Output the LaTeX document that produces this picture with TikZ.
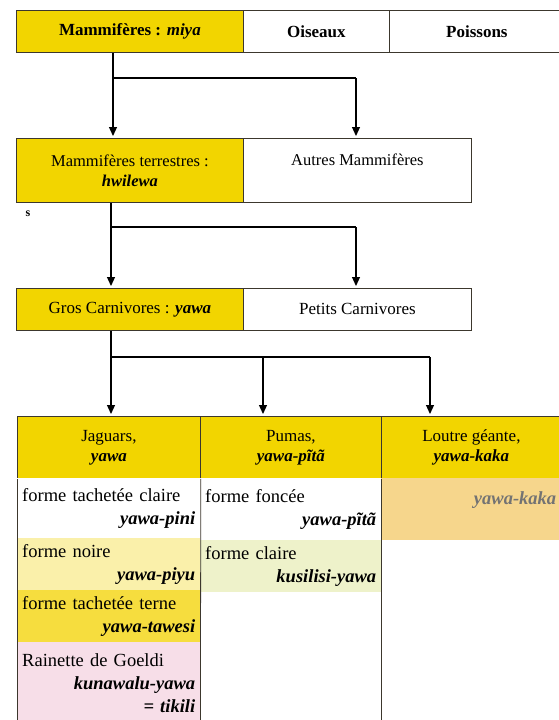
\documentclass[tikz,border=0pt]{standalone}
\usepackage{fontspec}
\setmainfont{Liberation Serif}
\usetikzlibrary{arrows.meta}

\definecolor{jaune}{RGB}{242,213,0}
\definecolor{jaunepale}{RGB}{250,240,170}
\definecolor{jaunemoyen}{RGB}{246,221,62}
\definecolor{rose}{RGB}{247,222,232}
\definecolor{vertpale}{RGB}{238,242,202}
\definecolor{orangepale}{RGB}{246,214,140}
\definecolor{trait}{RGB}{60,55,45}

\newcommand{\nom}[1]{\textbf{\textit{#1}}}
\newcommand{\forme}[2]{#1\hspace*{\fill}\\\hspace*{\fill}\nom{#2}}

\tikzset{
  boite/.style={draw=trait, line width=0.8pt, anchor=north west, inner sep=0pt,
    align=center, font=\fontsize{17}{20}\selectfont},
  case/.style={anchor=north west, inner xsep=5pt, inner ysep=2pt, align=left,
    font=\fontsize{18.5}{23}\selectfont},
  lien/.style={line width=1.2pt},
  fleche/.style={lien, -{Triangle[length=9pt,width=8pt]}, shorten >=2pt}
}

\begin{document}
\begin{tikzpicture}[x=1pt,y=-1pt]
  \useasboundingbox (0,0) rectangle (559,720);

  % premier niveau
  \node[boite, fill=jaune, minimum width=227pt, minimum height=42pt] (mam) at (16,10) {\textbf{Mammifères : \textit{miya}}};
  \node[boite, minimum width=146pt, minimum height=42pt] (ois) at (243,10) {\textbf{Oiseaux}};
  \node[boite, minimum width=175pt, minimum height=42pt] (poi) at (389,10) {\textbf{Poissons}};

  \coordinate (c1) at (113,78);
  \draw[lien] (c1 |- mam.south) -- (c1) -- (356,78) coordinate (c1b);

  % deuxieme niveau
  \node[boite, fill=jaune, minimum width=227pt, minimum height=64pt, font=\fontsize{16.5}{20}\selectfont] (ter) at (16,138) {Mammifères terrestres :\\ \nom{hwilewa}};
  \node[boite, minimum width=228pt, minimum height=64pt, font=\fontsize{16.5}{20}\selectfont] (aut) at (243,138) {Autres Mammifères\\[2pt]};
  \draw[fleche] (c1) -- (c1 |- ter.north);
  \draw[fleche] (c1b) -- (c1b |- aut.north);
  \node[font=\fontsize{12}{12}\selectfont\bfseries] (s) at (28,214) {s};

  \coordinate (c2) at (111,227);
  \draw[lien] (c2 |- ter.south) -- (c2) -- (356,227) coordinate (c2b);

  % troisieme niveau
  \node[boite, fill=jaune, minimum width=227pt, minimum height=42pt] (gro) at (16,288) {Gros Carnivores : \nom{yawa}};
  \node[boite, minimum width=228pt, minimum height=42pt] (pet) at (243,288) {Petits Carnivores};
  \draw[fleche] (c2) -- (c2 |- gro.north);
  \draw[fleche] (c2b) -- (c2b |- pet.north);

  \coordinate (c3) at (111,357);
  \coordinate (c3b) at (263,357);
  \coordinate (c3c) at (430,357);
  \draw[lien] (c3 |- gro.south) -- (c3) -- (c3c);

  % tableau
  \node[boite, fill=jaune, minimum width=183pt, minimum height=62pt] (jag) at (17,416) {Jaguars,\\ \nom{yawa}};
  \node[boite, fill=jaune, minimum width=181pt, minimum height=62pt] (pum) at (200,416) {Pumas,\\ \nom{yawa-pĩtã}};
  \node[boite, fill=jaune, minimum width=180pt, minimum height=62pt] (lou) at (381,416) {Loutre géante,\\ \nom{yawa-kaka}};
  \draw[fleche] (c3) -- (c3 |- jag.north);
  \draw[fleche] (c3b) -- (c3b |- pum.north);
  \draw[fleche] (c3c) -- (c3c |- lou.north);

  \node[case, fill=white, text width=173pt, minimum height=60pt] (j1) at (17,478) {\forme{forme tachetée claire}{yawa-pini}};
  \node[case, fill=jaunepale, text width=173pt, minimum height=52pt] (j2) at (17,538) {\forme{forme noire}{yawa-piyu}};
  \node[case, fill=jaunemoyen, text width=173pt, minimum height=52pt] (j3) at (17,590) {\forme{forme tachetée terne}{yawa-tawesi}};
  \node[case, fill=rose, text width=173pt, minimum height=82pt] (j4) at (17,642) {Rainette de Goeldi\hspace*{\fill}\\\hspace*{\fill}\nom{kunawalu-yawa}\\\hspace*{\fill}\nom{= tikili}};

  \node[case, fill=white, text width=171pt, minimum height=62pt] (p1) at (200,478) {\forme{forme foncée}{yawa-pĩtã}};
  \node[case, fill=vertpale, text width=171pt, minimum height=52pt] (p2) at (200,540) {\forme{forme claire}{kusilisi-yawa}};

  \node[case, fill=orangepale, text width=170pt, minimum height=62pt, text=black!55] (l1) at (381,478) {\hspace*{\fill}\nom{yawa-kaka}\\\mbox{}};

  \draw[trait, line width=0.8pt] (jag.south west) -- (j4.south west);
  \draw[trait, line width=0.8pt] (jag.south east) -- (j4.south east);
  \draw[trait, line width=0.8pt] (pum.south east) -- (pum.south east |- j4.south);
\end{tikzpicture}
\end{document}
